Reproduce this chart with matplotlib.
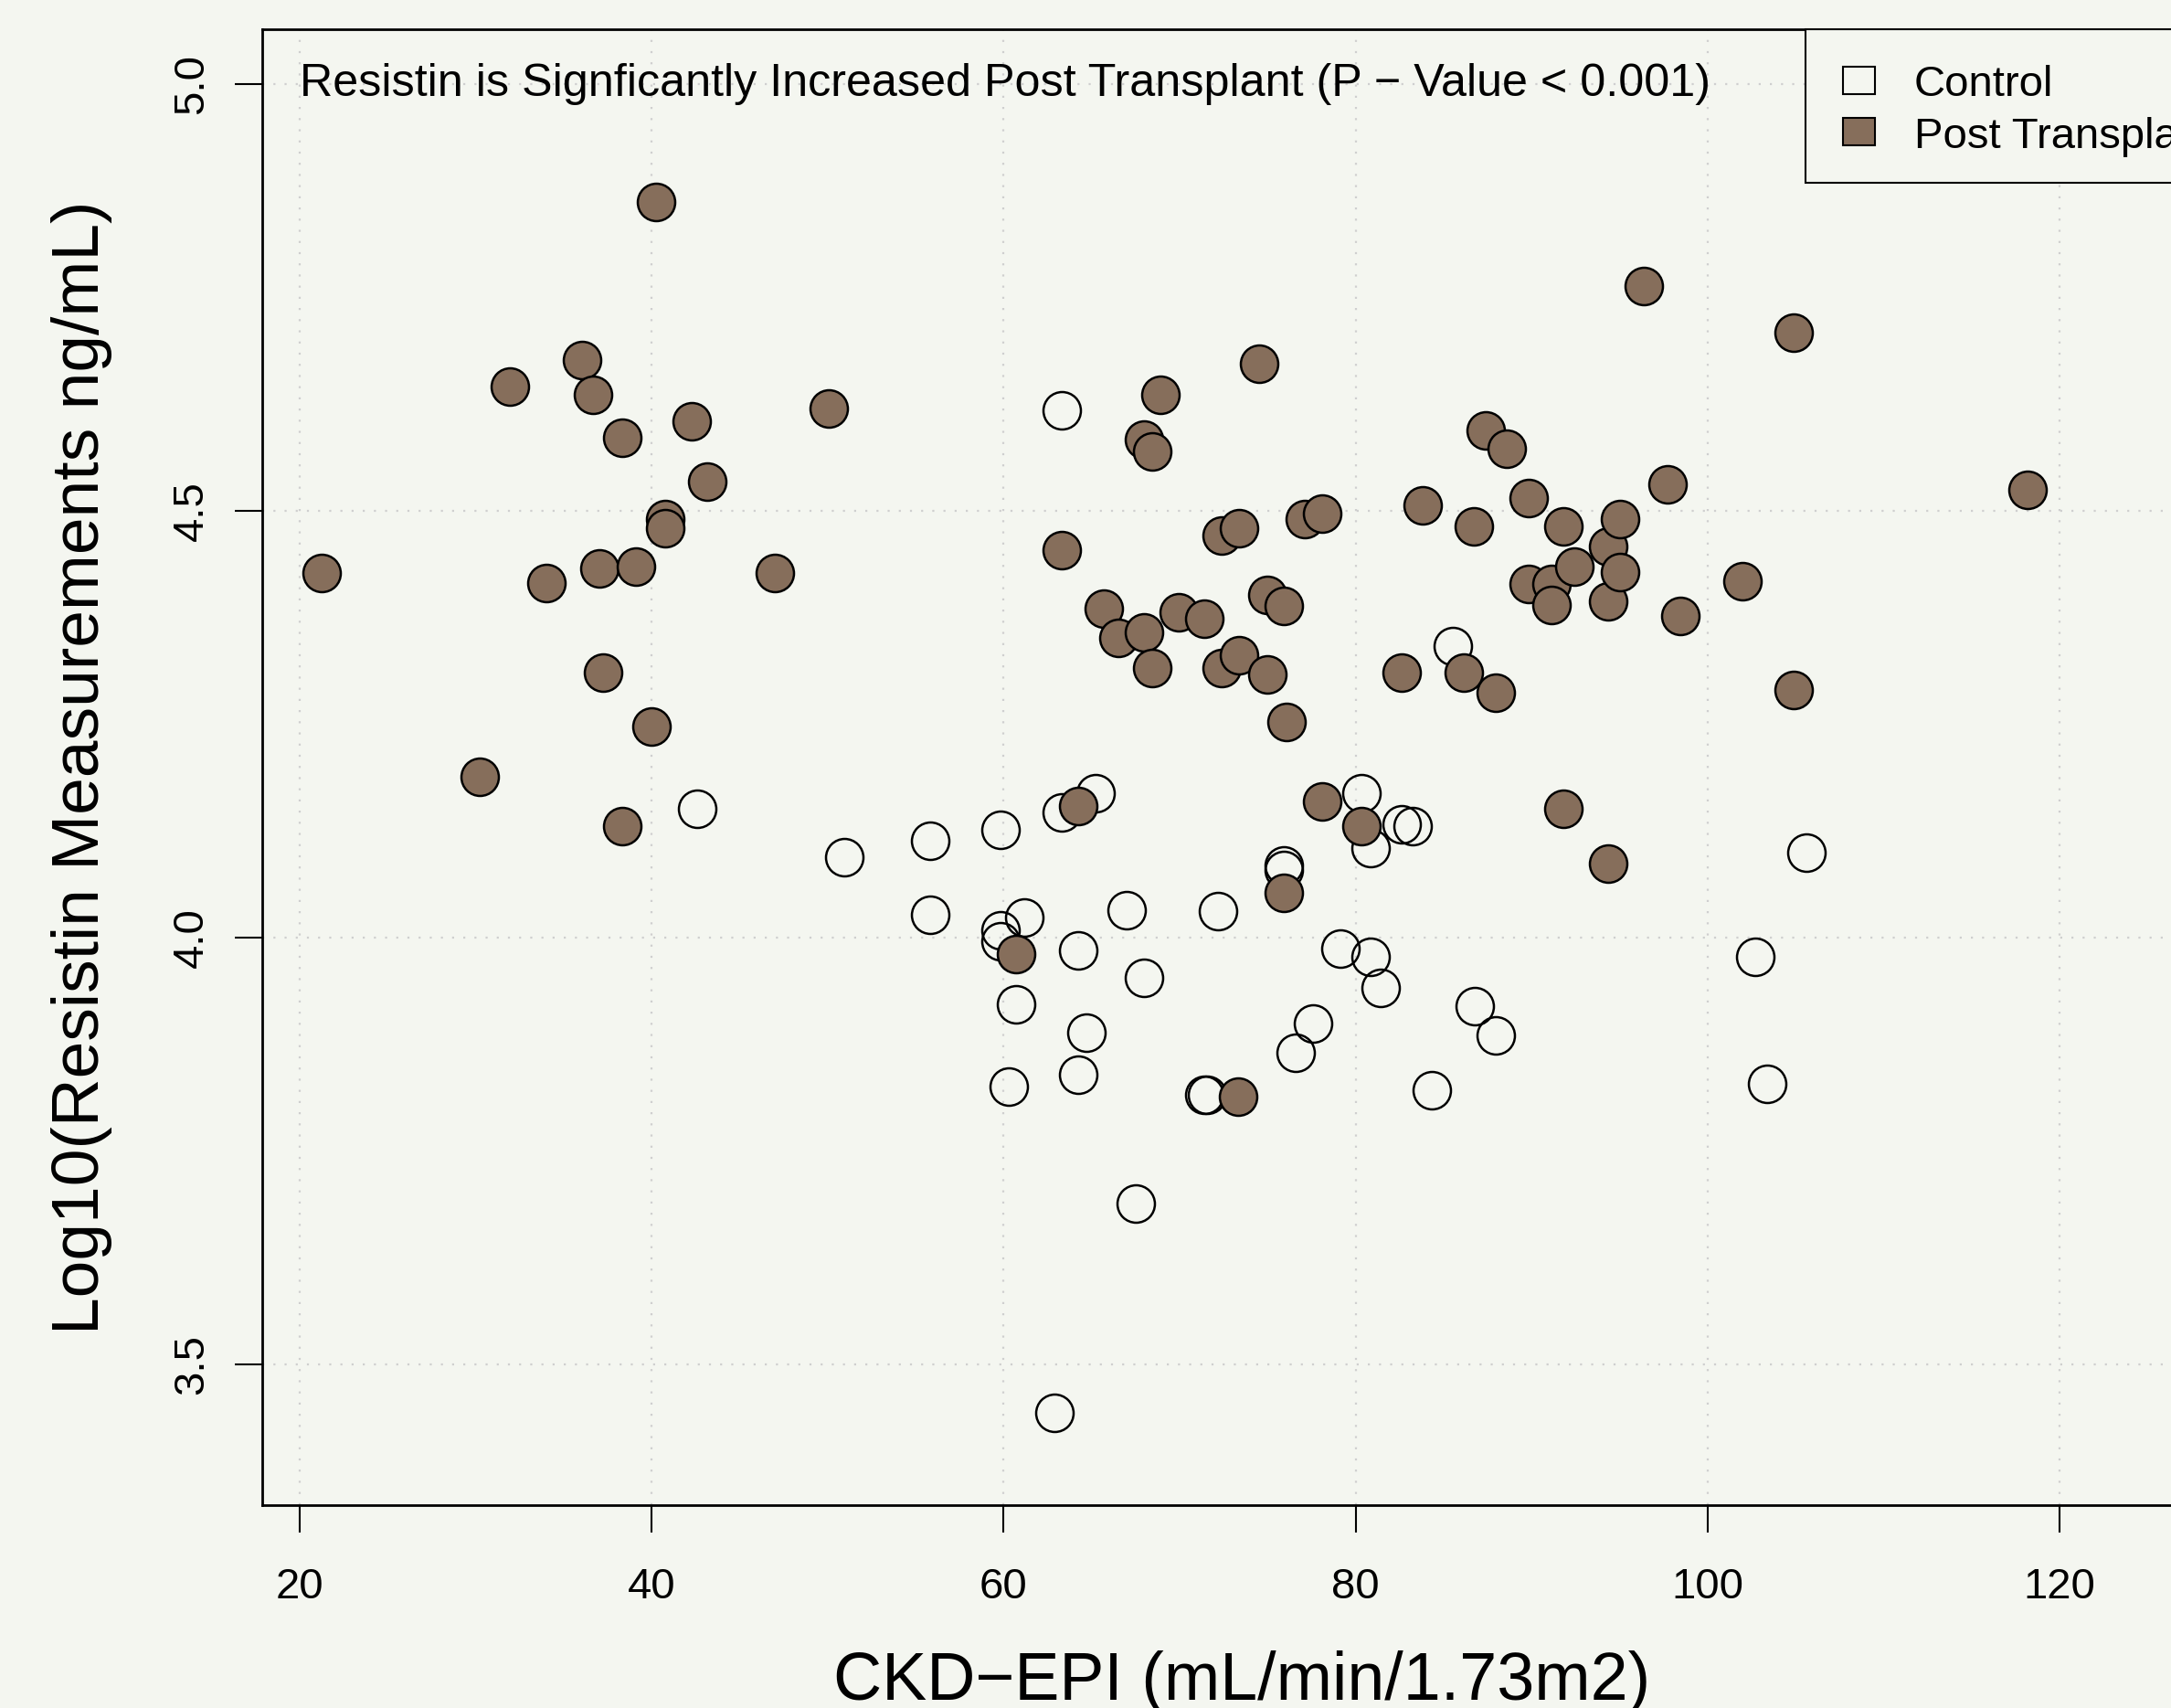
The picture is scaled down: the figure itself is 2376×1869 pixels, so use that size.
import matplotlib
matplotlib.use('Agg')
import matplotlib.pyplot as plt
from matplotlib.patches import Rectangle

plt.rcParams['font.family'] = ['Liberation Sans', 'DejaVu Sans']

# CKD-EPI (x) and log10 resistin (y)
control_ckd = [42.6, 50.94, 55.83, 55.83, 59.84, 59.84, 59.84, 61.18, 60.71, 60.31,
               63.31, 63.31, 65.2, 64.25, 64.72, 64.25, 62.91, 67.01, 67.95, 67.48,
               72.2, 71.42, 71.57, 75.91, 75.91, 77.56, 76.61, 79.13, 80.31, 80.87,
               80.87, 81.42, 82.6, 83.23, 84.33, 85.51, 86.77, 87.95, 102.68, 103.39,
               105.59]
control_resistin = [4.151, 4.094, 4.113, 4.026, 4.126, 4.008, 3.995, 4.023, 3.922, 3.825,
                    4.146, 4.618, 4.169, 3.985, 3.888, 3.839, 3.443, 4.032, 3.953, 3.688,
                    4.031, 3.815, 3.815, 4.084, 4.079, 3.899, 3.865, 3.987, 4.169, 4.105,
                    3.977, 3.941, 4.133, 4.130, 3.821, 4.341, 3.919, 3.885, 3.977, 3.828,
                    4.099]

transplant_ckd = [21.26, 30.24, 31.97, 34.02, 36.06, 36.69, 37.01, 37.24, 38.35, 38.35,
                  39.13, 40.0, 40.24, 40.79, 40.79, 42.28, 43.15, 47.01, 50.08, 60.71,
                  63.31, 64.25, 65.67, 66.54, 67.95, 68.43, 67.95, 68.43, 68.9, 69.92,
                  71.42, 72.36, 73.39, 72.36, 73.39, 73.31, 74.49, 74.96, 74.96, 75.91,
                  76.06, 75.91, 77.09, 78.11, 78.11, 80.31, 82.6, 83.78, 86.14, 86.69,
                  87.4, 87.95, 88.58, 89.84, 89.84, 91.1, 91.1, 91.81, 91.81, 92.44,
                  94.33, 94.33, 94.33, 95.04, 95.04, 96.38, 97.72, 98.43, 101.97, 104.88,
                  104.88, 118.19]
transplant_resistin = [4.427, 4.188, 4.646, 4.415, 4.677, 4.636, 4.432, 4.310, 4.586, 4.130,
                       4.435, 4.247, 4.862, 4.490, 4.480, 4.605, 4.534, 4.427, 4.620, 3.980,
                       4.454, 4.154, 4.385, 4.351, 4.583, 4.570, 4.357, 4.316, 4.636, 4.381,
                       4.373, 4.471, 4.479, 4.316, 4.331, 3.813, 4.672, 4.401, 4.308, 4.388,
                       4.253, 4.052, 4.490, 4.497, 4.159, 4.130, 4.310, 4.506, 4.310, 4.482,
                       4.594, 4.287, 4.573, 4.515, 4.414, 4.414, 4.390, 4.482, 4.151, 4.435,
                       4.458, 4.394, 4.086, 4.490, 4.428, 4.763, 4.531, 4.377, 4.417, 4.709,
                       4.290, 4.524]

x_ticks = [20, 40, 60, 80, 100, 120]
y_ticks = [3.5, 4.0, 4.5, 5.0]
y_tick_labels = ['3.5', '4.0', '4.5', '5.0']
group_labels = ['Control', 'Post Transplant']

bg = '#F4F6F0'
brown = '#866E5B'
W, H = 2376, 1869

fig = plt.figure(figsize=(W / 100, H / 100), dpi=100, facecolor=bg)
# plot region runs past the right edge of the picture, as in the original
ax = fig.add_axes([287 / W, 1 - 1647 / H, 2143 / W, 1615 / H], facecolor=bg)
ax.set_xlim(17.88, 129.12)
ax.set_ylim(3.3346, 5.0643)

# dotted grid
for gx in x_ticks:
    ax.axvline(gx, color='#CFCFCF', lw=1.6, ls=(0, (1, 4.5)), zorder=1)
for gy in y_ticks:
    ax.axhline(gy, color='#CFCFCF', lw=1.6, ls=(0, (1, 4.5)), zorder=1)

ax.plot(control_ckd, control_resistin, 'o', ms=29.5, mfc='none', mec='black',
        mew=1.8, zorder=3)
ax.plot(transplant_ckd, transplant_resistin, 'o', ms=29.5, mfc=brown, mec='black',
        mew=1.8, zorder=4)

ax.text(20, 4.986, 'Resistin is Signficantly Increased Post Transplant (P \u2212 Value < 0.001)',
        fontsize=36.2, ha='left', va='baseline', zorder=5)

ax.set_xticks(x_ticks)
ax.set_xticklabels([str(t) for t in x_ticks])
ax.set_yticks(y_ticks)
ax.set_yticklabels(y_tick_labels, rotation=90, va='center')
ax.tick_params(axis='both', direction='out', length=21.6, width=1.5, labelsize=34)
ax.tick_params(axis='x', pad=27)
ax.tick_params(axis='y', pad=18)
for s in ax.spines.values():
    s.set_linewidth(2)

# legend box drawn by hand to match the R layout
def fxy(px, py):
    return (px / W, 1 - py / H)

ax.add_patch(Rectangle(fxy(1976, 200), (2430 - 1976) / W, 168 / H, transform=fig.transFigure,
                       facecolor=bg, edgecolor='black', lw=1.5, zorder=6, clip_on=False))
ax.add_patch(Rectangle(fxy(2017, 103), 35 / W, 30 / H, transform=fig.transFigure,
                       facecolor='none', edgecolor='black', lw=1.5, zorder=7, clip_on=False))
ax.add_patch(Rectangle(fxy(2017, 159), 35 / W, 30 / H, transform=fig.transFigure,
                       facecolor=brown, edgecolor='black', lw=1.5, zorder=7, clip_on=False))
ax.text(*fxy(2095, 105), group_labels[0], transform=fig.transFigure, fontsize=34,
        ha='left', va='baseline', zorder=7)
ax.text(*fxy(2095, 162), group_labels[1], transform=fig.transFigure, fontsize=34,
        ha='left', va='baseline', zorder=7)

fig.text(*fxy(1359, 1860), 'CKD\u2212EPI (mL/min/1.73m2)', fontsize=53,
         ha='center', va='baseline')
fig.text(*fxy(108, 840), 'Log10(Resistin Measurements ng/mL)', fontsize=52.7,
         rotation=90, rotation_mode='anchor', ha='center', va='baseline')

fig.savefig('out.png', dpi=100, facecolor=bg)
